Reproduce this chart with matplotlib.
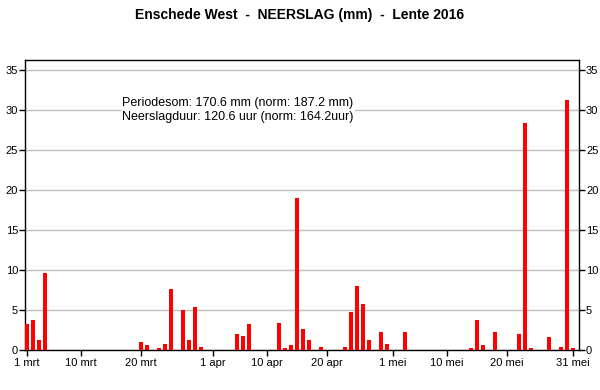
import matplotlib
matplotlib.use("Agg")
import matplotlib.pyplot as plt
import numpy as np

plt.rcParams['font.family'] = ['Liberation Sans', 'DejaVu Sans']

title = "Enschede West  -  NEERSLAG (mm)  -  Lente 2016"
info = "Periodesom: 170.6 mm (norm: 187.2 mm)\nNeerslagduur: 120.6 uur (norm: 164.2uur)"

# daily precipitation (mm), 1 March .. 31 May 2016
march = [3.25, 3.75, 1.25, 9.6, 0, 0, 0, 0, 0, 0,
         0, 0, 0, 0, 0, 0, 0, 0, 0, 1.0,
         0.6, 0, 0.25, 0.75, 7.6, 0, 5.0, 1.25, 5.4, 0.4, 0]
april = [0, 0, 0, 0, 2.0, 1.75, 3.25, 0, 0, 0,
         0, 3.4, 0.25, 0.6, 19.0, 2.6, 1.25, 0, 0.4, 0,
         0, 0, 0.4, 4.75, 8.0, 5.75, 1.25, 0, 2.25, 0.75]
may = [0, 0, 2.25, 0, 0, 0, 0, 0, 0, 0,
       0, 0, 0, 0.25, 3.75, 0.6, 0, 2.25, 0, 0,
       0, 2.0, 28.4, 0.25, 0, 0, 1.6, 0, 0.4, 31.25, 0.25]
values = march + april + may

tick_days = [0, 9, 19, 31, 40, 50, 61, 70, 80, 91]
tick_labels = ["1 mrt", "10 mrt", "20 mrt", "1 apr", "10 apr", "20 apr",
               "1 mei", "10 mei", "20 mei", "31 mei"]
yticks = [0, 5, 10, 15, 20, 25, 30, 35]

fig = plt.figure(figsize=(6, 3.9), dpi=100)
ax = fig.add_axes([25/600, 40/390, 554/600, 290/390])
x = np.arange(len(values))
ax.bar(x, values, width=0.67, color='#ff0000', zorder=3)
ax.set_xlim(-0.3, 92.0)
ax.set_ylim(0, 36.25)
ax.set_yticks(yticks)
ax.set_xticks(tick_days)
ax.set_xticklabels(tick_labels)
ax.yaxis.grid(True, color='#c0c0c0', linewidth=1.0, zorder=0)
ax.set_axisbelow(True)
ax.tick_params(axis='both', direction='out', length=4, width=1, labelsize=8, colors='black')
ax.tick_params(axis='y', right=True, labelright=True, pad=1)
ax.tick_params(axis='x', pad=2)
for s in ax.spines.values():
    s.set_color('black')
    s.set_linewidth(1.0)

fig.text(0.5, 1 - 15/390, title, ha='center', va='center', fontsize=10, fontweight='bold')
fig.text(238/600, 1 - 110/390, info, ha='center', va='center', fontsize=9,
         linespacing=1.15,
         bbox=dict(facecolor='white', edgecolor='none', pad=1), zorder=5)

fig.savefig("out.png", dpi=100)
